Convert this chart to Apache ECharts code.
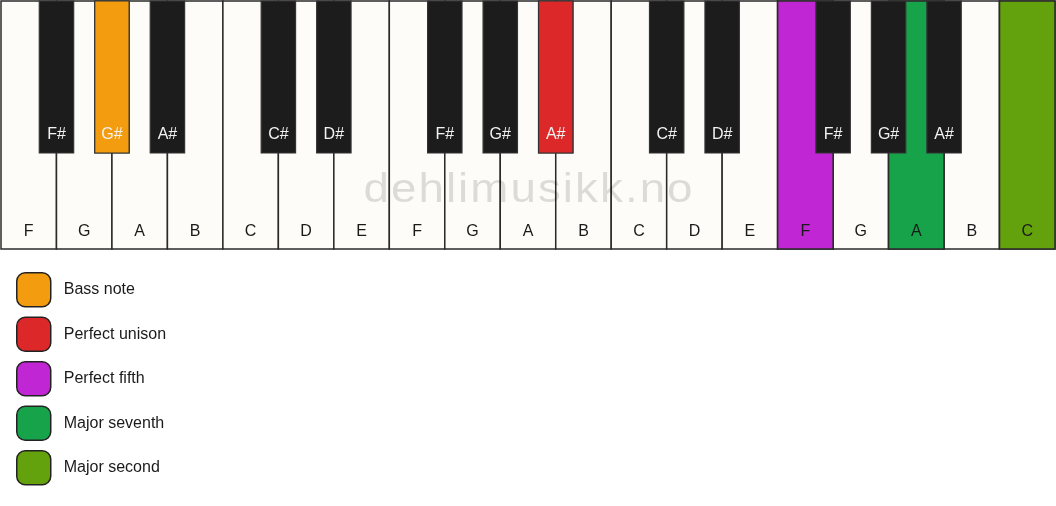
<!DOCTYPE html>
<html>
<head>
<meta charset="utf-8">
<script src="https://cdn.jsdelivr.net/npm/echarts@6/dist/echarts.min.js"></script>
<style>
html,body{margin:0;padding:0;background:#fff;}
#chart{width:1056px;height:506px;}
</style>
</head>
<body>
<div id="chart"></div>
<script>
// ---- data ----
const whiteNotes = ['F','G','A','B','C','D','E','F','G','A','B','C','D','E','F','G','A','B','C'];
const blackNotes = ['F#','G#','A#','C#','D#','F#','G#','A#','C#','D#','F#','G#','A#'];
const blackPositions = [1,2,3,5,6,8,9,10,12,13,15,16,17];
const intervalNames = ['Bass note','Perfect unison','Perfect fifth','Major seventh','Major second'];
const intervalColors = ['#F39C0F','#DC2828','#C026D3','#17A34A','#64A20D'];
const intervalKeyType = ['black','black','white','white','white'];
const intervalKeyIndex = [1, 7, 14, 16, 18]; // index into blackNotes / whiteNotes
const watermark = 'dehlimusikk.no';

// ---- layout / style constants ----
const Y_MAX = 248;
const BLACK_BOTTOM = 152;
const BLACK_HALF = 0.31;
const WHITE_LABEL_Y = 230.5;
const BLACK_LABEL_Y = 133.5;
const FONT = '"Liberation Sans", Arial, sans-serif';
const WHITE_FILL = '#FDFCF8';
const BLACK_FILL = '#1C1C1C';
const STROKE = '#2A2A2A';
const WM_COLOR = 'rgba(0,0,0,0.13)';

function whiteKey(pos, note, fill) {
  return function (api) {
    const p0 = api.coord([pos, 0]);
    const p1 = api.coord([pos + 1, Y_MAX]);
    const lp = api.coord([pos + 0.5, WHITE_LABEL_Y]);
    return {
      type: 'group',
      children: [
        { type: 'rect', shape: { x: p0[0], y: p0[1], width: p1[0] - p0[0], height: p1[1] - p0[1] },
          style: { fill: fill, stroke: STROKE, lineWidth: 1.5 } },
        { type: 'text', x: lp[0], y: lp[1],
          style: { text: note, fill: '#1a1a1a', font: '16px ' + FONT, align: 'center', verticalAlign: 'middle' } }
      ]
    };
  };
}
function blackKey(pos, note, fill) {
  return function (api) {
    const p0 = api.coord([pos - BLACK_HALF, 0]);
    const p1 = api.coord([pos + BLACK_HALF, BLACK_BOTTOM]);
    const lp = api.coord([pos, BLACK_LABEL_Y]);
    return {
      type: 'group',
      children: [
        { type: 'rect', shape: { x: p0[0], y: p0[1], width: p1[0] - p0[0], height: p1[1] - p0[1] },
          style: { fill: fill, stroke: '#333', lineWidth: 1.2 } },
        { type: 'text', x: lp[0], y: lp[1],
          style: { text: note, fill: '#f2f2f2', font: '16px ' + FONT, align: 'center', verticalAlign: 'middle' } }
      ]
    };
  };
}

const series = [];
series.push({
  name: 'white keys', type: 'custom', z: 1, silent: true,
  data: whiteNotes.map((n, i) => [i, 0]),
  renderItem: (params, api) => whiteKey(api.value(0), whiteNotes[params.dataIndex], WHITE_FILL)(api)
});
series.push({
  name: 'black keys', type: 'custom', z: 3, silent: true,
  data: blackPositions.map(p => [p, 0]),
  renderItem: (params, api) => blackKey(api.value(0), blackNotes[params.dataIndex], BLACK_FILL)(api)
});
intervalNames.forEach((name, k) => {
  const isWhite = intervalKeyType[k] === 'white';
  const idx = intervalKeyIndex[k];
  const pos = isWhite ? idx : blackPositions[idx];
  const note = isWhite ? whiteNotes[idx] : blackNotes[idx];
  series.push({
    name: name, type: 'custom', z: isWhite ? 2 : 4, silent: true,
    itemStyle: { color: intervalColors[k] },
    data: [[pos, 0]],
    renderItem: (params, api) => (isWhite ? whiteKey : blackKey)(api.value(0), note, intervalColors[k])(api)
  });
});

const chart = echarts.init(document.getElementById('chart'));
chart.setOption({
  animation: false,
  backgroundColor: '#ffffff',
  grid: { left: 1, right: 1, top: 1, height: Y_MAX },
  xAxis: { type: 'value', min: 0, max: whiteNotes.length, show: false },
  yAxis: { type: 'value', min: 0, max: Y_MAX, inverse: true, show: false },
  legend: {
    data: intervalNames,
    orient: 'vertical',
    left: 11, top: 267,
    itemWidth: 34, itemHeight: 34, itemGap: 9,
    icon: 'roundRect',
    selectedMode: false,
    itemStyle: { borderColor: '#222', borderWidth: 1.5 },
    textStyle: { fontSize: 16, color: '#1a1a1a', fontFamily: FONT, padding: [0, 0, 0, 8] }
  },
  graphic: [{
    type: 'text', x: 528, y: 191, scaleX: 1.13, z: 10, silent: true,
    style: {
      text: watermark.split('').map(c => '{s|' + c + '}').join(''),
      rich: { s: { fontSize: 40.5, fontFamily: FONT, fill: WM_COLOR, padding: [0, 0.9, 0, 0.9] } },
      font: '40.5px ' + FONT, fill: WM_COLOR,
      align: 'center', verticalAlign: 'middle'
    }
  }],
  series: series
});
</script>
</body>
</html>
